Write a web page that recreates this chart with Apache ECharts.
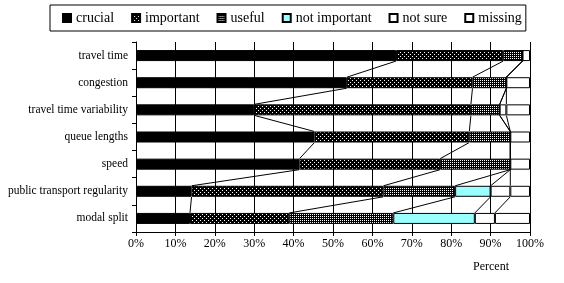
<!DOCTYPE html>
<html><head><meta charset="utf-8">
<script src="https://cdn.jsdelivr.net/npm/echarts@6/dist/echarts.min.js"></script>
<style>html,body{margin:0;padding:0;background:#fff}#c{width:564px;height:283px}</style>
</head><body><div id="c"></div>
<script>
const categories = ['travel time','congestion','travel time variability','queue lengths','speed','public transport regularity','modal split'];
const seriesNames = ['crucial','important','useful','not important','not sure','missing'];
const crucial      = [66.0, 53.5, 30.0, 45.3, 41.5, 14.1, 13.7];
const important    = [27.2, 31.9, 55.0, 39.3, 35.7, 48.7, 25.2];
const useful       = [ 4.9,  8.6,  7.3, 10.4, 17.8, 18.2, 26.4];
const notImportant = [ 0.0,  0.0,  0.0,  0.0,  0.0,  9.0, 20.7];
const notSure      = [ 0.0,  0.0,  1.7,  0.0,  0.0,  5.0,  5.1];
const missing      = [ 1.9,  6.0,  6.0,  5.0,  5.0,  5.0,  8.9];
const xTickLabels = ['0%','10%','20%','30%','40%','50%','60%','70%','80%','90%','100%'];

const allSeries = [crucial, important, useful, notImportant, notSure, missing];
const FONT = '"Liberation Serif","Times New Roman",serif';
const BAR_W = 11;

function pattern(cells){
  const c = document.createElement('canvas'); c.width = 4; c.height = 4;
  const ctx = c.getContext('2d');
  ctx.fillStyle = '#000'; ctx.fillRect(0,0,4,4);
  ctx.fillStyle = '#fff';
  cells.forEach(p => ctx.fillRect(p[0], p[1], 1, 1));
  return c;
}
const fills = [
  '#000000',
  {image: pattern([[0,0],[2,2]]), repeat: 'repeat'},
  {image: pattern([[0,0],[2,0],[0,2],[2,2]]), repeat: 'repeat'},
  '#99ffff',
  '#ffffff',
  '#ffffff'
];

const barSeries = seriesNames.map((n, si) => ({
  name: n, type: 'bar', stack: 'total', barWidth: BAR_W,
  data: allSeries[si],
  itemStyle: {color: fills[si], borderColor: '#000', borderWidth: 1},
  emphasis: {disabled: true},
  z: 3
}));

// series lines: connect cumulative boundaries between adjacent bars
const lineData = [];
for (let r = 0; r < categories.length - 1; r++) {
  for (let k = 0; k < seriesNames.length - 1; k++) lineData.push([r, k]);
}
function cum(r, k){ let s = 0; for (let j = 0; j <= k; j++) s += allSeries[j][r]; return s; }

const lineSeries = {
  type: 'custom', name: 'serieslines', z: 2, silent: true,
  encode: {x: -1, y: -1},
  data: lineData,
  renderItem: function(params, api){
    const r = api.value(0), k = api.value(1);
    const p1 = api.coord([cum(r, k), r]);
    const p2 = api.coord([cum(r + 1, k), r + 1]);
    const h = BAR_W / 2;
    return {type: 'line', shape: {x1: p1[0], y1: p1[1] + h, x2: p2[0], y2: p2[1] - h},
      style: {stroke: '#000', lineWidth: 1}};
  }
};

const chart = echarts.init(document.getElementById('c'), null, {renderer: 'canvas'});
chart.setOption({
  animation: false,
  backgroundColor: '#fff',
  textStyle: {fontFamily: FONT, color: '#000'},
  title: {text: 'Percent', left: 468, top: 256,
    textStyle: {fontFamily: FONT, fontSize: 12, fontWeight: 'normal', color: '#000'}},
  legend: {
    data: seriesNames, left: 50, top: 5,
    padding: [6, 4, 6, 12], itemGap: 17, itemWidth: 8, itemHeight: 8,
    borderColor: '#000', borderWidth: 1, icon: 'rect',
    textStyle: {fontFamily: FONT, fontSize: 14, color: '#000'},
    selectedMode: false
  },
  grid: {left: 136, right: 34, top: 42, bottom: 51},
  xAxis: {
    type: 'value', min: 0, max: 100, interval: 10,
    axisLine: {show: true, lineStyle: {color: '#000'}},
    axisTick: {show: true, length: 4, lineStyle: {color: '#000'}},
    splitLine: {show: true, lineStyle: {color: '#000', width: 1}},
    axisLabel: {formatter: v => xTickLabels[Math.round(v / 10)], color: '#000', fontFamily: FONT, fontSize: 12, margin: 6}
  },
  yAxis: {
    type: 'category', data: categories, inverse: true,
    axisLine: {show: true, lineStyle: {color: '#000'}},
    axisTick: {show: true, length: 4, lineStyle: {color: '#000'}},
    axisLabel: {color: '#000', fontFamily: FONT, fontSize: 11.5, margin: 8}
  },
  series: [lineSeries].concat(barSeries)
});
</script></body></html>
